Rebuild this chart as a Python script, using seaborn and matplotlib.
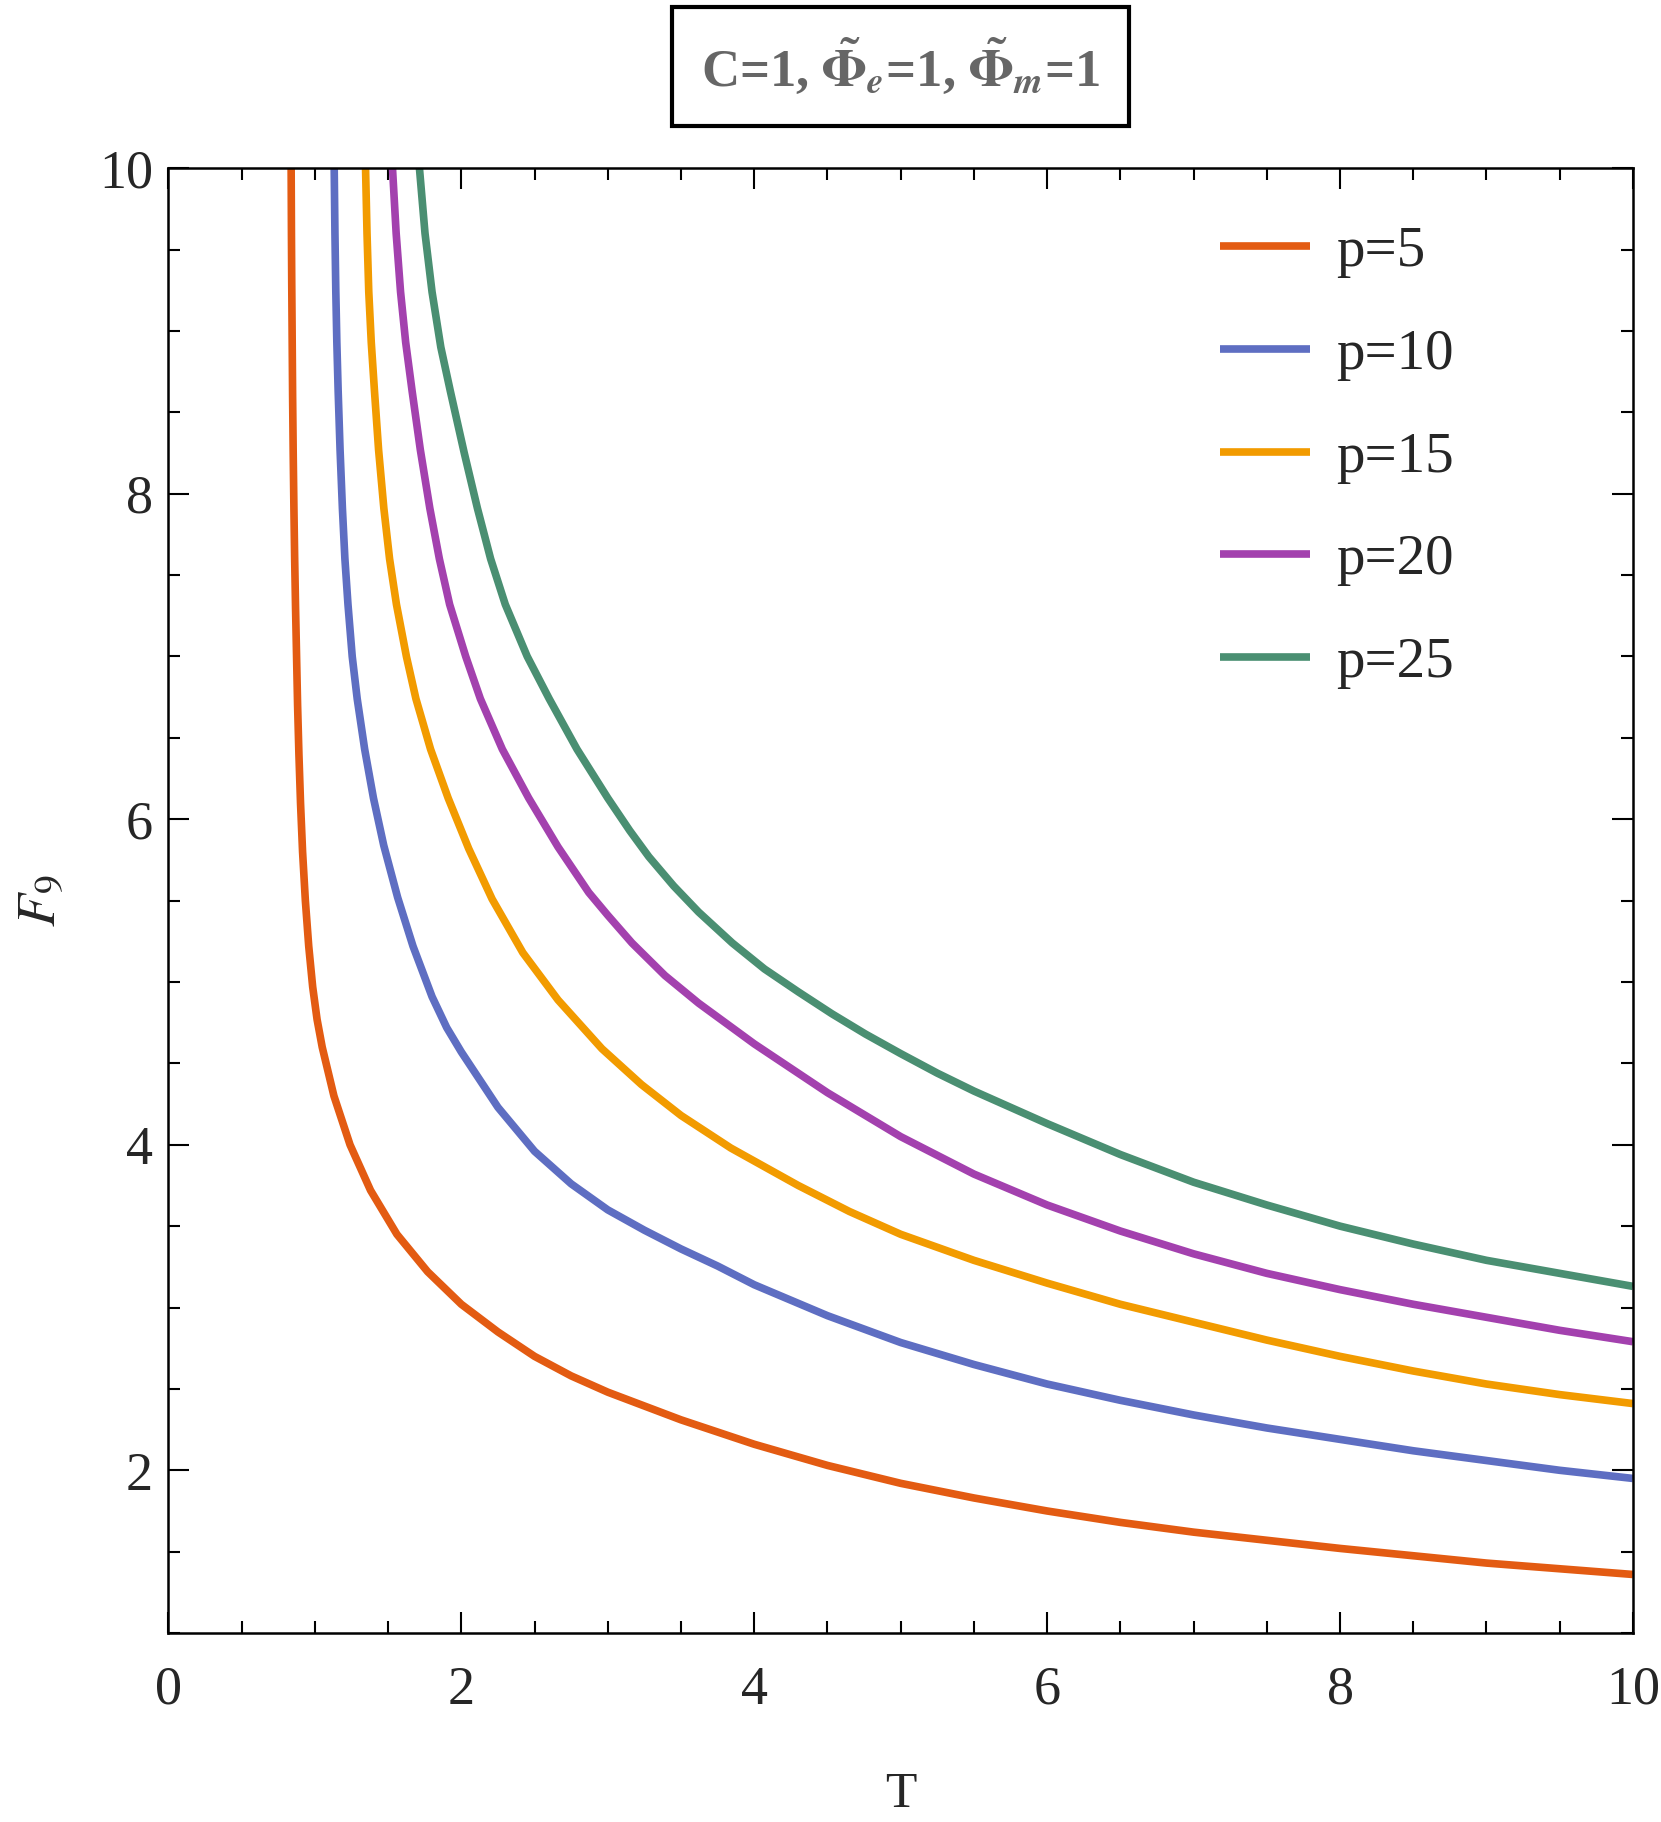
import pandas as pd
import matplotlib
matplotlib.use("Agg")
import matplotlib.pyplot as plt
from matplotlib.ticker import MultipleLocator
import seaborn as sns

# curves: F_9 against T for each p
labels = ["p=5", "p=10", "p=15", "p=20", "p=25"]
colors = ["#E35B12", "#5E6EC2", "#F29B00", "#A341AE", "#4A8F72"]

T_p5 = [0.838, 0.840, 0.842, 0.845, 0.848, 0.852, 0.857, 0.862, 0.868, 0.875,
        0.882, 0.891, 0.902, 0.916, 0.935, 0.958, 0.985, 1.015, 1.05, 1.13,
        1.24, 1.38, 1.56, 1.77, 2.0, 2.25, 2.5, 2.75, 3.0, 3.5,
        4.0, 4.5, 5.0, 5.5, 6.0, 6.5, 7.0, 7.5, 8.0, 8.5, 9.0, 9.5, 10.0]
F_p5 = [10.0, 9.6, 9.3, 8.95, 8.6, 8.25, 7.9, 7.6, 7.3, 7.0,
        6.7, 6.4, 6.1, 5.8, 5.5, 5.22, 4.97, 4.77, 4.6, 4.3,
        4.0, 3.72, 3.45, 3.22, 3.02, 2.85, 2.70, 2.58, 2.48, 2.31,
        2.16, 2.03, 1.92, 1.83, 1.75, 1.68, 1.62, 1.57, 1.52, 1.475, 1.43, 1.395, 1.36]

T_p10 = [1.132, 1.137, 1.143, 1.150, 1.159, 1.172, 1.188, 1.205, 1.226, 1.255,
         1.289, 1.34, 1.40, 1.47, 1.565, 1.67, 1.80, 1.90, 2.0, 2.25,
         2.5, 2.75, 3.0, 3.25, 3.5, 3.75, 4.0, 4.5, 5.0, 5.5,
         6.0, 6.5, 7.0, 7.5, 8.0, 8.5, 9.0, 9.5, 10.0]
F_p10 = [10.0, 9.6, 9.24, 8.93, 8.63, 8.27, 7.91, 7.6, 7.32, 7.0,
         6.74, 6.43, 6.13, 5.84, 5.52, 5.22, 4.91, 4.72, 4.57, 4.23,
         3.96, 3.76, 3.60, 3.475, 3.36, 3.255, 3.14, 2.95, 2.785, 2.65,
         2.53, 2.43, 2.34, 2.26, 2.19, 2.12, 2.06, 2.00, 1.95]

T_p15 = [1.346, 1.356, 1.368, 1.385, 1.407, 1.435, 1.471, 1.51, 1.557, 1.625,
         1.69, 1.79, 1.91, 2.05, 2.21, 2.42, 2.66, 2.96, 3.23, 3.5,
         3.84, 4.3, 4.65, 5.0, 5.5, 6.0, 6.5, 7.0, 7.5, 8.0,
         8.5, 9.0, 9.5, 10.0]
F_p15 = [10.0, 9.6, 9.24, 8.93, 8.63, 8.27, 7.91, 7.6, 7.32, 7.0,
         6.74, 6.43, 6.13, 5.82, 5.51, 5.18, 4.89, 4.59, 4.37, 4.18,
         3.98, 3.75, 3.59, 3.45, 3.29, 3.15, 3.02, 2.91, 2.80, 2.70,
         2.61, 2.53, 2.465, 2.41]

T_p20 = [1.530, 1.555, 1.585, 1.62, 1.664, 1.72, 1.785, 1.85, 1.92, 2.03,
         2.13, 2.28, 2.46, 2.66, 2.87, 3.0, 3.165, 3.39, 3.62, 4.0,
         4.5, 5.0, 5.5, 6.0, 6.5, 7.0, 7.5, 8.0, 8.5, 9.0,
         9.5, 10.0]
F_p20 = [10.0, 9.6, 9.24, 8.93, 8.63, 8.27, 7.91, 7.6, 7.32, 7.0,
         6.74, 6.43, 6.13, 5.83, 5.55, 5.41, 5.24, 5.04, 4.87, 4.62,
         4.32, 4.05, 3.82, 3.63, 3.47, 3.33, 3.21, 3.11, 3.02, 2.94,
         2.86, 2.79]

T_p25 = [1.714, 1.752, 1.80, 1.86, 1.925, 2.02, 2.11, 2.20, 2.30, 2.45,
         2.60, 2.79, 3.0, 3.15, 3.28, 3.45, 3.62, 3.85, 4.07, 4.3,
         4.53, 4.76, 5.0, 5.25, 5.5, 6.0, 6.5, 7.0, 7.5, 8.0,
         8.5, 9.0, 9.5, 10.0]
F_p25 = [10.0, 9.6, 9.24, 8.9, 8.63, 8.25, 7.91, 7.6, 7.32, 7.0,
         6.74, 6.43, 6.13, 5.93, 5.77, 5.59, 5.43, 5.24, 5.08, 4.94,
         4.805, 4.68, 4.56, 4.44, 4.33, 4.13, 3.94, 3.77, 3.63, 3.50,
         3.39, 3.29, 3.21, 3.13]

series = [(T_p5, F_p5), (T_p10, F_p10), (T_p15, F_p15), (T_p20, F_p20), (T_p25, F_p25)]
frames = []
for lab, (t, f) in zip(labels, series):
    frames.append(pd.DataFrame({"T": t, "F": f, "p": lab}))
df = pd.concat(frames, ignore_index=True)

sns.set_theme(style="ticks")
plt.rcParams["font.family"] = ["Liberation Serif", "DejaVu Serif"]
plt.rcParams["mathtext.fontset"] = "stix"

fig = plt.figure(figsize=(16.61, 18.22), dpi=100)
ax = fig.add_axes([0.1014, 0.1037, 0.8817, 0.804])

sns.lineplot(data=df, x="T", y="F", hue="p", hue_order=labels,
             palette=dict(zip(labels, colors)), estimator=None, sort=False,
             lw=5.5, ax=ax)
for line in ax.get_lines():
    line.set_solid_capstyle("butt")
    line.set_solid_joinstyle("round")

ax.set_xlim(0, 10)
ax.set_ylim(1, 10)
ax.xaxis.set_major_locator(MultipleLocator(2))
ax.xaxis.set_minor_locator(MultipleLocator(0.5))
ax.yaxis.set_major_locator(MultipleLocator(2))
ax.yaxis.set_minor_locator(MultipleLocator(0.5))
ax.tick_params(which="both", direction="in", top=True, right=True,
               width=1.5, color="black", labelsize=39)
ax.tick_params(which="major", length=15)
ax.tick_params(which="minor", length=8.5)
ax.tick_params(axis="x", which="major", pad=23)
ax.tick_params(axis="y", which="major", pad=11)
for s in ax.spines.values():
    s.set_linewidth(1.8)
    s.set_color("black")

ax.set_xlabel("T", fontsize=37)
ax.xaxis.set_label_coords(0.5, -0.0945)
ax.set_ylabel(r"$F_9$", fontsize=39)
ax.yaxis.set_label_coords(-0.069, 0.5)

handles, labs = ax.get_legend_handles_labels()
ax.legend(handles, labs, loc="upper left", bbox_to_anchor=(0.718, 0.9603),
          frameon=False, fontsize=41, handlelength=1.59, handletextpad=0.45,
          labelspacing=0.89, borderaxespad=0, borderpad=0)

fig.text(0.542, 0.9635,
         r"C=1, $\mathbf{\tilde{\Phi}}_{\boldsymbol{e}}$=1, $\mathbf{\tilde{\Phi}}_{\boldsymbol{m}}$=1",
         fontsize=38, fontweight="bold", color="#666666", ha="center", va="center",
         bbox=dict(boxstyle="square,pad=0.55", fc="white", ec="black", lw=3))

fig.savefig("out.png", dpi=100)
